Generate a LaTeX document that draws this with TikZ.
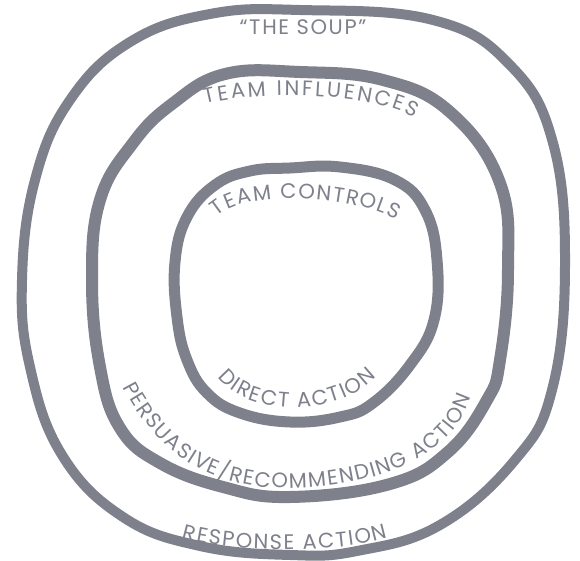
\documentclass[tikz,border=0pt]{standalone}
\usepackage{fontspec}
\setmainfont{Poppins}
\newfontfamily\soupfont{Poppins}[LetterSpace=8]
\definecolor{RingGrey}{RGB}{126,129,140}
\newcommand\labelfont{\fontsize{10.5}{12}\selectfont}
\usetikzlibrary{decorations.text}

\begin{document}
\begin{tikzpicture}[x=0.5pt,y=-0.5pt,
  ring/.style={draw=RingGrey,line width=#1,line join=round},
  arclabel/.style={decorate,decoration={text along path,
              text={|\labelfont|#1},text color=RingGrey,
              text align={fit to path}}}]
  \useasboundingbox (0,0) rectangle (580,561);
  % the three rings
  \draw[ring=5pt] plot[smooth cycle,tension=0.7] coordinates {
        (300,10) (433,20) (510,65) (553,143) (565,267) (552,390)
        (515,460) (440,525) (357,551) (290,555) (200,546) (123,517)
        (62,455) (30,367) (22,280) (35,180) (70,100) (130,42) (210,14)};
  \draw[ring=6pt] plot[smooth cycle,tension=0.7] coordinates {
        (300,72) (383,80) (450,112) (500,183) (508,270) (500,360)
        (487,400) (448,452) (390,484) (290,497) (223,487) (160,463)
        (120,428) (100,367) (92,280) (100,200) (133,143) (172,104)
        (225,74)};
  \draw[ring=5.5pt] plot[smooth cycle,tension=0.7] coordinates {
        (290,168) (340,167) (395,180) (425,210) (437,260) (434,320)
        (410,365) (373,403) (340,417) (290,422) (240,413) (207,393)
        (187,360) (177,317) (175,262) (187,217) (215,185) (250,171)};
  % labels
  \node[font=\soupfont\labelfont,text=RingGrey] (soup) at (303,27)
        {“THE SOUP”};
  \path[arclabel=TEAM INFLUENCES]
        (205,104) .. controls (260,90) and (370,92) .. (415,118);
  \path[arclabel=TEAM CONTROLS]
        (217,217) .. controls (242,190) and (350,194) .. (397,220);
  \path[arclabel=DIRECT ACTION]
        (218,377) .. controls (245,415) and (335,420) .. (376,377);
  \path[arclabel=PERSUASIVE/RECOMMENDING ACTION]
        (123,387) .. controls (163,465) and (225,490) .. (292,488)
        .. controls (370,486) and (450,462) .. (471,397);
  \path[arclabel=RESPONSE ACTION]
        (182,538) .. controls (230,553) and (340,553) .. (388,538);
\end{tikzpicture}
\end{document}
